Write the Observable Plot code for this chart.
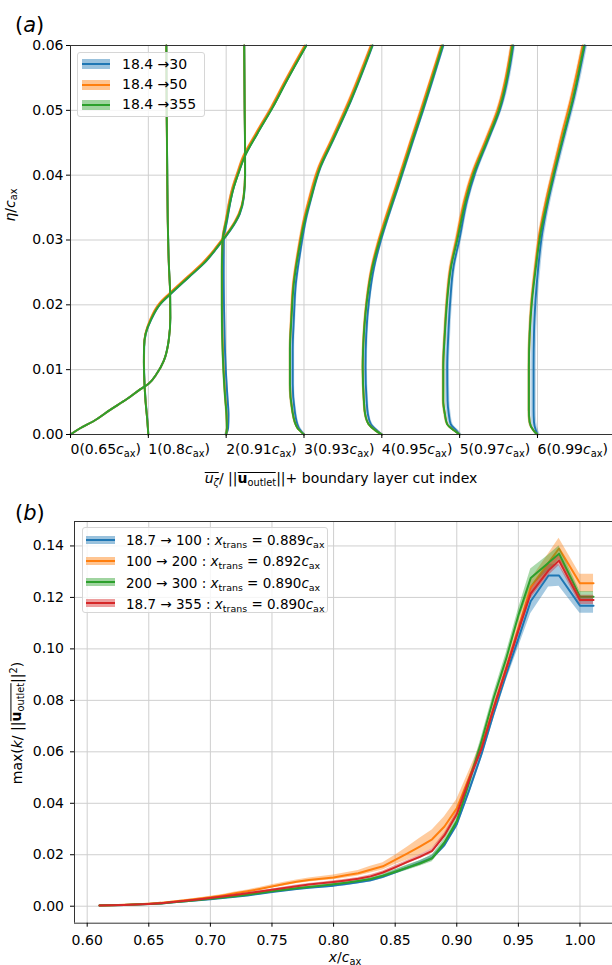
<!DOCTYPE html>
<html><head><meta charset="utf-8">
<script src="https://cdn.jsdelivr.net/npm/d3@7"></script>
<script src="https://cdn.jsdelivr.net/npm/@observablehq/plot@0.6"></script>
<style>
body{margin:0;background:#fff;}
#wrap{position:relative;width:612px;height:965px;overflow:hidden;font-family:"DejaVu Sans",sans-serif;color:#000;background:#fff;}
#wrap svg{font-family:"DejaVu Sans",sans-serif;}
sub{font-size:70%;vertical-align:-0.28em;line-height:0;}
sup{font-size:70%;vertical-align:0.45em;line-height:0;}
.ov{position:relative;}
.ov::before{content:"";position:absolute;left:0;right:0;top:0.14em;border-top:1px solid #000;}
.leg{position:absolute;background:rgba(255,255,255,0.8);border:1px solid #d6d6d6;border-radius:3px;box-sizing:border-box;}
</style></head>
<body><div id="wrap"><div id="pa" style="position:absolute;left:0;top:0"></div><div id="pb" style="position:absolute;left:0;top:490px"></div></div>
<script>
// ---------- Panel (a): boundary-layer profiles ----------
const cutIndex = [0, 1, 2, 3, 4, 5, 6];
const cutPos = ["0.65", "0.8", "0.91", "0.93", "0.95", "0.97", "0.99"];
const yTicksA = [0, 0.01, 0.02, 0.03, 0.04, 0.05, 0.06];
const legendA = ["18.4 \u219230", "18.4 \u219250", "18.4 \u2192355"];

const p0_eta = [0, 0.001, 0.002, 0.0038, 0.0055, 0.007, 0.0078, 0.0094, 0.0114, 0.0145, 0.018, 0.022, 0.026, 0.033, 0.041, 0.05, 0.06];
const p0_blue = [0, 0.13, 0.29, 0.51, 0.73, 0.90, 1.00, 1.11, 1.20, 1.262, 1.283, 1.28, 1.265, 1.25, 1.243, 1.236, 1.232];
const p0_orange = [0, 0.13, 0.29, 0.51, 0.73, 0.90, 1.00, 1.11, 1.20, 1.262, 1.282, 1.279, 1.264, 1.249, 1.242, 1.235, 1.231];
const p0_green = [0, 0.13, 0.29, 0.51, 0.73, 0.90, 1.00, 1.11, 1.20, 1.262, 1.283, 1.28, 1.265, 1.25, 1.243, 1.236, 1.232];

const p1_eta = [0, 0.002, 0.005, 0.008, 0.011, 0.0135, 0.0155, 0.0176, 0.0202, 0.0217, 0.0243, 0.0265, 0.0285, 0.0299, 0.0315, 0.034, 0.0366, 0.04, 0.045, 0.05, 0.06];
const p1_blue = [1.0, 0.99, 0.967, 0.952, 0.945, 0.947, 0.967, 1.033, 1.16, 1.29, 1.525, 1.725, 1.865, 1.955, 2.055, 2.175, 2.228, 2.244, 2.243, 2.239, 2.233];
const p1_orange = [1.0, 0.988, 0.965, 0.95, 0.943, 0.945, 0.962, 1.02, 1.14, 1.265, 1.50, 1.70, 1.845, 1.935, 2.04, 2.16, 2.222, 2.242, 2.242, 2.238, 2.232];
const p1_green = [1.0, 0.988, 0.965, 0.95, 0.943, 0.945, 0.965, 1.03, 1.157, 1.285, 1.52, 1.72, 1.86, 1.95, 2.05, 2.17, 2.225, 2.243, 2.242, 2.238, 2.232];

const p2_eta = [0, 0.001, 0.003, 0.006, 0.01, 0.015, 0.02, 0.025, 0.0299, 0.033, 0.0382, 0.0402, 0.0428, 0.0464, 0.0505, 0.0546, 0.06];
const p2_blue = [2.0, 2.025, 2.03, 2.015, 1.995, 1.98, 1.972, 1.968, 1.97, 2.012, 2.10, 2.155, 2.235, 2.40, 2.60, 2.78, 3.03];
const p2_orange = [2.0, 2.01, 2.005, 1.987, 1.968, 1.953, 1.948, 1.947, 1.952, 1.995, 2.085, 2.14, 2.215, 2.38, 2.58, 2.76, 3.01];
const p2_green = [2.0, 2.01, 2.005, 1.985, 1.965, 1.95, 1.945, 1.945, 1.955, 2.005, 2.10, 2.155, 2.235, 2.40, 2.60, 2.78, 3.03];

const p3_eta = [0, 0.0011, 0.0037, 0.0078, 0.013, 0.018, 0.0233, 0.0284, 0.0335, 0.0361, 0.0413, 0.0454, 0.0515, 0.06];
const p3_blue = [3.0, 2.93, 2.88, 2.855, 2.855, 2.87, 2.895, 2.955, 3.03, 3.085, 3.215, 3.375, 3.605, 3.882];
const p3_orange = [3.0, 2.91, 2.85, 2.82, 2.82, 2.835, 2.862, 2.925, 3.005, 3.06, 3.19, 3.35, 3.578, 3.86];
const p3_green = [3.0, 2.91, 2.85, 2.82, 2.82, 2.84, 2.87, 2.935, 3.02, 3.08, 3.21, 3.37, 3.6, 3.878];

const p4_eta = [0, 0.0006, 0.0016, 0.0032, 0.0052, 0.0104, 0.0155, 0.0207, 0.0258, 0.0294, 0.0335, 0.0382, 0.0449, 0.05, 0.06];
const p4_blue = [4.0, 3.94, 3.86, 3.82, 3.805, 3.79, 3.80, 3.835, 3.9, 3.975, 4.08, 4.21, 4.39, 4.53, 4.79];
const p4_orange = [4.0, 3.92, 3.83, 3.785, 3.77, 3.755, 3.768, 3.805, 3.87, 3.945, 4.05, 4.18, 4.36, 4.50, 4.765];
const p4_green = [4.0, 3.92, 3.83, 3.785, 3.77, 3.755, 3.77, 3.81, 3.88, 3.96, 4.07, 4.2, 4.38, 4.52, 4.78];

const p5_eta = [0, 0.0006, 0.0016, 0.0032, 0.0052, 0.0104, 0.0155, 0.0207, 0.0258, 0.03, 0.0361, 0.0402, 0.0454, 0.05, 0.06];
const p5_blue = [5.0, 4.96, 4.885, 4.86, 4.845, 4.84, 4.855, 4.88, 4.92, 4.995, 5.095, 5.195, 5.365, 5.515, 5.69];
const p5_orange = [5.0, 4.93, 4.84, 4.81, 4.79, 4.79, 4.808, 4.835, 4.88, 4.955, 5.06, 5.16, 5.335, 5.485, 5.665];
const p5_green = [5.0, 4.93, 4.84, 4.81, 4.79, 4.79, 4.81, 4.84, 4.89, 4.97, 5.08, 5.18, 5.356, 5.505, 5.68];

const p6_eta = [0, 0.0006, 0.0019, 0.0037, 0.0104, 0.0155, 0.0207, 0.0258, 0.031, 0.0361, 0.0402, 0.0464, 0.0515, 0.06];
const p6_blue = [6.0, 5.98, 5.955, 5.95, 5.95, 5.955, 5.975, 6.01, 6.06, 6.14, 6.22, 6.35, 6.46, 6.61];
const p6_orange = [6.0, 5.95, 5.90, 5.89, 5.89, 5.90, 5.925, 5.97, 6.025, 6.11, 6.19, 6.315, 6.425, 6.58];
const p6_green = [6.0, 5.95, 5.90, 5.89, 5.89, 5.90, 5.93, 5.98, 6.04, 6.13, 6.21, 6.34, 6.45, 6.6];

// band half-widths per profile (spread of each series)
const sdBlueA = [0.005, 0.008, 0.02, 0.025, 0.025, 0.03, 0.035];
const sdOrangeA = [0.005, 0.006, 0.01, 0.012, 0.012, 0.015, 0.015];
const sdGreenA = [0.005, 0.006, 0.01, 0.01, 0.01, 0.012, 0.012];

// ---------- Panel (b): max TKE along the blade ----------
const xB = [0.61,0.62,0.63,0.64,0.65,0.66,0.67,0.68,0.69,0.70,0.71,0.72,0.73,0.74,0.75,0.76,0.77,0.78,0.79,0.80,0.81,0.82,0.83,0.84,0.85,0.86,0.87,0.88,0.89,0.90,0.91,0.92,0.93,0.94,0.95,0.96,0.9745,0.983,1.0,1.011];
const blueB = [0.0003,0.0004,0.0005,0.0007,0.0009,0.0011,0.0015,0.0019,0.0023,0.0027,0.0032,0.0037,0.0042,0.0048,0.0055,0.0061,0.0067,0.0072,0.0076,0.0080,0.0086,0.0093,0.0101,0.0114,0.0132,0.0150,0.0168,0.0188,0.0238,0.0319,0.045,0.059,0.075,0.090,0.104,0.1185,0.1285,0.1285,0.1168,0.1168];
const orangeB = [0.0003,0.0004,0.0006,0.0008,0.0010,0.0013,0.0018,0.0023,0.0029,0.0035,0.0042,0.0050,0.0058,0.0067,0.0077,0.0086,0.0095,0.0102,0.0107,0.0112,0.0120,0.0128,0.0142,0.0155,0.0180,0.0205,0.0232,0.0260,0.0310,0.0380,0.050,0.062,0.077,0.092,0.108,0.124,0.1335,0.139,0.1255,0.1255];
const greenB = [0.0003,0.0004,0.0005,0.0007,0.0009,0.0011,0.0015,0.0019,0.0024,0.0029,0.0034,0.0039,0.0045,0.0051,0.0058,0.0064,0.0070,0.0075,0.0080,0.0085,0.0091,0.0098,0.0106,0.0119,0.0134,0.0150,0.0166,0.0186,0.0248,0.0330,0.048,0.064,0.081,0.096,0.113,0.1275,0.1335,0.137,0.1203,0.1203];
const redB = [0.0003,0.0004,0.0005,0.0007,0.0009,0.0012,0.0016,0.0021,0.0026,0.0032,0.0038,0.0044,0.0050,0.0057,0.0064,0.0071,0.0078,0.0084,0.0089,0.0094,0.0100,0.0107,0.0116,0.0131,0.0151,0.0172,0.0192,0.0215,0.0275,0.0357,0.049,0.061,0.077,0.092,0.107,0.1215,0.1305,0.1343,0.119,0.119];
const blueSdB = [0.0001,0.0001,0.0001,0.0001,0.0001,0.0001,0.0002,0.0002,0.0002,0.0003,0.0003,0.0003,0.0004,0.0004,0.0004,0.0005,0.0005,0.0005,0.0005,0.0006,0.0006,0.0006,0.0007,0.0007,0.0008,0.0008,0.0009,0.0010,0.0012,0.0015,0.0018,0.0020,0.0022,0.0025,0.0035,0.0048,0.0045,0.0042,0.0030,0.0030];
const orangeSdB = [0.0001,0.0001,0.0001,0.0001,0.0002,0.0002,0.0002,0.0003,0.0003,0.0004,0.0004,0.0005,0.0005,0.0006,0.0006,0.0007,0.0007,0.0008,0.0008,0.0009,0.0010,0.0011,0.0013,0.0014,0.0018,0.0025,0.0032,0.0036,0.0038,0.0035,0.0025,0.0020,0.0020,0.0020,0.0025,0.0030,0.0035,0.0040,0.0035,0.0035];
const greenSdB = [0.0001,0.0001,0.0001,0.0001,0.0001,0.0001,0.0002,0.0002,0.0002,0.0003,0.0003,0.0003,0.0003,0.0004,0.0004,0.0004,0.0005,0.0005,0.0005,0.0005,0.0006,0.0006,0.0007,0.0008,0.0009,0.0010,0.0011,0.0013,0.0015,0.0015,0.0015,0.0018,0.0020,0.0022,0.0025,0.0035,0.0030,0.0030,0.0020,0.0020];
const redSdB = [0.0001,0.0001,0.0001,0.0001,0.0001,0.0001,0.0001,0.0002,0.0002,0.0002,0.0002,0.0003,0.0003,0.0003,0.0003,0.0004,0.0004,0.0004,0.0004,0.0005,0.0005,0.0005,0.0006,0.0006,0.0007,0.0007,0.0008,0.0009,0.0010,0.0012,0.0012,0.0012,0.0013,0.0014,0.0016,0.0020,0.0020,0.0020,0.0018,0.0018];
const xTicksB = [0.60, 0.65, 0.70, 0.75, 0.80, 0.85, 0.90, 0.95, 1.00];
const yTicksB = [0, 0.02, 0.04, 0.06, 0.08, 0.10, 0.12, 0.14];
const rangesB = ["18.7 \u2192 100", "100 \u2192 200", "200 \u2192 300", "18.7 \u2192 355"];
const xtransB = ["0.889", "0.892", "0.890", "0.890"];

// ---------- styling ----------
const C = {blue: "#1f77b4", orange: "#ff7f0e", green: "#2ca02c", red: "#d62728"};
const GRID = "#cfcfcf", SPINE = "#333";
const fmt2 = d3.format(".2f");

// ---------- build panel (a) ----------
const etaA = [p0_eta, p1_eta, p2_eta, p3_eta, p4_eta, p5_eta, p6_eta];
const seriesA = [
  ["blue", [p0_blue, p1_blue, p2_blue, p3_blue, p4_blue, p5_blue, p6_blue], sdBlueA],
  ["orange", [p0_orange, p1_orange, p2_orange, p3_orange, p4_orange, p5_orange, p6_orange], sdOrangeA],
  ["green", [p0_green, p1_green, p2_green, p3_green, p4_green, p5_green, p6_green], sdGreenA]
];
const marksA = [
  Plot.gridX(cutIndex, {stroke: GRID, strokeOpacity: 1, strokeWidth: 1}),
  Plot.gridY(yTicksA, {stroke: GRID, strokeOpacity: 1, strokeWidth: 1})
];
for (const [s, profs, sds] of seriesA) {
  const rows = [];
  profs.forEach((arr, k) => arr.forEach((u, i) => rows.push({k, eta: etaA[k][i], u, sd: sds[k]})));
  marksA.push(Plot.areaX(rows, {y: "eta", x1: r => r.u - r.sd, x2: r => r.u + r.sd, z: "k", fill: C[s], fillOpacity: 0.3, curve: "monotone-y"}));
  marksA.push(Plot.line(rows, {x: "u", y: "eta", z: "k", stroke: C[s], strokeWidth: 1.9, curve: "monotone-y"}));
}
marksA.push(
  Plot.ruleY([0.06], {stroke: SPINE}),
  Plot.ruleY([0], {stroke: SPINE}),
  Plot.ruleX([0], {stroke: SPINE}),
  Plot.axisY({ticks: yTicksA, tickFormat: fmt2, tickSize: 4, tickPadding: 3, label: null, fontSize: 14}),
  Plot.axisX({ticks: cutIndex, tickFormat: i => `${i}(${cutPos[i]}cax)`, tickSize: 4, tickPadding: 6, label: null, fontSize: 14, textAnchor: "start"})
);
const plotA = Plot.plot({
  width: 612, height: 490,
  marginLeft: 70, marginRight: 0, marginTop: 45, marginBottom: 56,
  x: {domain: [0, 6.964]},
  y: {domain: [0, 0.06]},
  style: {fontFamily: "DejaVu Sans", fontSize: "14px", color: "#000", background: "transparent", overflow: "visible"},
  marks: marksA
});
document.getElementById("pa").appendChild(plotA);
plotA.querySelectorAll('g[aria-label="x-axis tick label"] text').forEach((t, i) => {
  t.setAttribute("text-anchor", "start");
  t.innerHTML = `${cutIndex[i]}(${cutPos[i]}<tspan font-style="italic">c</tspan><tspan font-size="9.8" dy="3">ax</tspan><tspan dy="-3">)</tspan>`;
});

// ---------- build panel (b) ----------
const seriesB = [["blue", blueB, blueSdB], ["orange", orangeB, orangeSdB], ["green", greenB, greenSdB], ["red", redB, redSdB]];
const marksB = [
  Plot.gridX(xTicksB, {stroke: GRID, strokeOpacity: 1, strokeWidth: 1}),
  Plot.gridY(yTicksB, {stroke: GRID, strokeOpacity: 1, strokeWidth: 1})
];
for (const [s, v, sd] of seriesB) {
  const d = xB.map((x, i) => ({x, v: v[i], lo: v[i] - sd[i], hi: v[i] + sd[i]}));
  marksB.push(Plot.areaY(d, {x: "x", y1: "lo", y2: "hi", fill: C[s], fillOpacity: 0.4}));
  marksB.push(Plot.line(d, {x: "x", y: "v", stroke: C[s], strokeWidth: 2}));
}
const xDomB = [0.5897, 1.0264], yDomB = [-0.0066, 0.1495];
marksB.push(
  Plot.ruleY([yDomB[1]], {stroke: SPINE}),
  Plot.ruleY([yDomB[0]], {stroke: SPINE}),
  Plot.ruleX([xDomB[0]], {stroke: SPINE}),
  Plot.axisY({ticks: yTicksB, tickFormat: fmt2, tickSize: 4, tickPadding: 6.5, label: null, fontSize: 14}),
  Plot.axisX({ticks: xTicksB, tickFormat: fmt2, tickSize: 4, tickPadding: 7.5, label: null, fontSize: 14})
);
const plotB = Plot.plot({
  width: 612, height: 475,
  marginLeft: 74, marginRight: 0, marginTop: 31, marginBottom: 42.3,
  x: {domain: xDomB},
  y: {domain: yDomB},
  style: {fontFamily: "DejaVu Sans", fontSize: "14px", color: "#000", background: "transparent", overflow: "visible"},
  marks: marksB
});
document.getElementById("pb").appendChild(plotB);

// ---------- text overlays (labels, legends) ----------
const wrap = document.getElementById("wrap");
function textAt(html, x, base, fs, middle) {
  const d = document.createElement("div");
  d.style.cssText = `position:absolute;left:${x}px;top:${base - 0.346 * fs}px;font-size:${fs}px;line-height:0;white-space:nowrap;${middle ? "transform:translateX(-50%);" : ""}`;
  d.innerHTML = html; wrap.appendChild(d); return d;
}
function vtextAt(html, cx, cy, fs) {
  const d = document.createElement("div");
  d.style.cssText = `position:absolute;left:${cx}px;top:${cy}px;font-size:${fs}px;line-height:0;white-space:nowrap;transform:translate(-50%,-50%) rotate(-90deg);`;
  d.innerHTML = html; wrap.appendChild(d); return d;
}
function box(x, y, w, h) {
  const d = document.createElement("div"); d.className = "leg";
  d.style.left = x + "px"; d.style.top = y + "px"; d.style.width = w + "px"; d.style.height = h + "px";
  wrap.appendChild(d);
}
function patch(col, x, cy, w, h) {
  const d = document.createElement("div");
  d.style.cssText = `position:absolute;left:${x}px;top:${cy - h / 2}px;width:${w}px;height:${h}px;background:${col};opacity:0.45;`;
  wrap.appendChild(d);
  const l = document.createElement("div");
  l.style.cssText = `position:absolute;left:${x}px;top:${cy - 1}px;width:${w}px;height:2px;background:${col};`;
  wrap.appendChild(l);
}

// panel tags
textAt("(<i>a</i>)", 15, 32, 21);
textAt("(<i>b</i>)", 15, 520, 21);

// axis labels
vtextAt("<i>\u03b7</i>/<i>c</i><sub>ax</sub>", 12, 205, 14);
textAt('<span class="ov"><i>u</i><sub><i>\u03b6</i></sub></span>/ ||<span class="ov"><b>u</b><sub>outlet</sub></span>||+ boundary layer cut index', 341, 482.5, 14, true);
vtextAt('max(<i>k</i>/ ||<span class="ov"><b>u</b><sub>outlet</sub></span>||<sup>2</sup>)', 18, 723, 14);
textAt("<i>x</i>/<i>c</i><sub>ax</sub>", 345, 961.5, 14, true);

// legend (a)
box(77, 52, 128, 65);
const legColsA = [C.blue, C.orange, C.green];
legendA.forEach((t, i) => {
  const cy = 64.3 + i * 20.3;
  patch(legColsA[i], 82, cy, 28, 10);
  textAt(t, 122, cy + 4.1, 14);
});

// legend (b)
box(82, 527, 246, 86);
const legColsB = [C.blue, C.orange, C.green, C.red];
rangesB.forEach((t, i) => {
  const cy = 540 + i * 21.1;
  patch(legColsB[i], 86, cy, 29, 8);
  textAt(`${t} : <i>x</i><sub>trans</sub> = ${xtransB[i]}<i>c</i><sub>ax</sub>`, 126, cy + 5, 13.5);
});
</script>
</body></html>
